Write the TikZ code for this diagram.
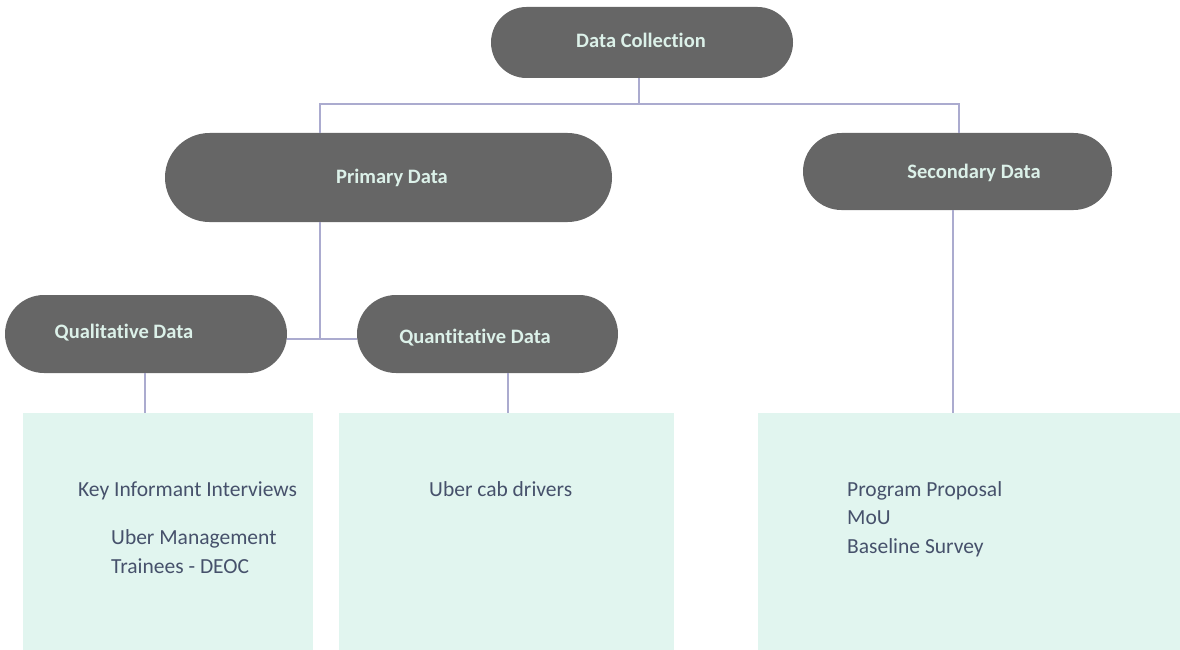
\documentclass[tikz,border=0pt]{standalone}
\usepackage{fontspec}
\setmainfont{Carlito}[Ligatures=NoCommon]
\usetikzlibrary{shapes.misc}

\definecolor{pillgrey}{HTML}{666666}
\definecolor{mint}{HTML}{DCF1E9}
\definecolor{boxmint}{HTML}{E1F5EF}
\definecolor{bodyblue}{HTML}{46516B}
\definecolor{linklav}{HTML}{ABABCF}

\tikzset{
  pill/.style={rounded rectangle, fill=pillgrey, inner sep=0pt},
  title/.style={text=mint, font=\fontsize{20.5}{24}\selectfont\bfseries, inner sep=0pt},
  listbox/.style={rectangle, fill=boxmint, inner sep=0pt, anchor=north west},
  body/.style={text=bodyblue, font=\fontsize{21.5}{29}\selectfont, inner sep=0pt, anchor=base west},
  link/.style={draw=linklav, line width=1.6pt}
}

\begin{document}
\begin{tikzpicture}[x=1pt,y=-1pt]
  \useasboundingbox (0,0) rectangle (1180,650);

  % top level
  \node[pill, minimum width=302, minimum height=71] (dc) at (642,42.5) {};
  \node[title] (dc-t) at (641,40) {Data Collection};

  % second level
  \node[pill, minimum width=447, minimum height=89] (primary) at (388.5,177.5) {};
  \node[title] (primary-t) at (392,178) {Primary Data};
  \node[pill, minimum width=309, minimum height=77] (secondary) at (957.5,171.5) {};
  \node[title] (secondary-t) at (974,173) {Secondary Data};

  % third level
  \node[pill, minimum width=282, minimum height=78] (quali) at (146,334) {};
  \node[title] (quali-t) at (124,333) {Qualitative Data};
  \node[pill, minimum width=261, minimum height=78] (quanti) at (487.5,334) {};
  \node[title] (quanti-t) at (475,338) {Quantitative Data};

  % boxes underneath
  \node[listbox, minimum width=290, minimum height=237] (keybox) at (23,413) {};
  \node[listbox, minimum width=335, minimum height=237] (cabbox) at (339,413) {};
  \node[listbox, minimum width=422, minimum height=237] (docbox) at (758,413) {};

  \node[body] (kii) at (78,496) {Key Informant Interviews};
  \node[body] (mgmt) at (111,544) {Uber Management};
  \node[body] (deoc) at (111,573) {Trainees - DEOC};
  \node[body] (cab) at (429,496) {Uber cab drivers};
  \node[body] (prop) at (847,496) {Program Proposal};
  \node[body] (mou) at (847,524.5) {MoU};
  \node[body] (base) at (847,553) {Baseline Survey};

  % connectors
  \draw[link] ([xshift=-3pt]dc.south) -- ++(0,26) coordinate (split);
  \draw[link] (split) -| ([xshift=-68.5pt]primary.north);
  \draw[link] (split) -| ([xshift=1.5pt]secondary.north);
  \draw[link] ([xshift=-68.5pt]primary.south) -- ++(0,117) coordinate (fork);
  \draw[link] (quali.east |- fork) -- (quanti.west |- fork);
  \draw[link] ([xshift=-1pt]quali.south) -- ([xshift=-1pt]quali.south |- keybox.north);
  \draw[link] ([xshift=20.5pt]quanti.south) -- ([xshift=20.5pt]quanti.south |- cabbox.north);
  \draw[link] ([xshift=-4.5pt]secondary.south) -- ([xshift=-4.5pt]secondary.south |- docbox.north);
\end{tikzpicture}
\end{document}
